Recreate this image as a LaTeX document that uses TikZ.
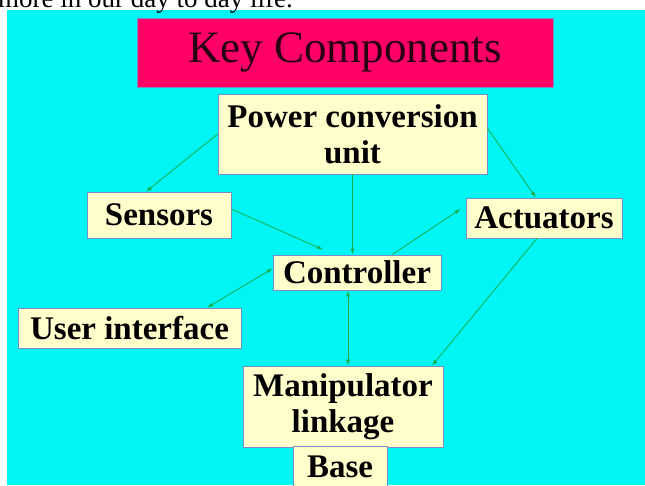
\documentclass[tikz,border=0pt]{standalone}
\usepackage{fontspec}
\setmainfont{Liberation Serif}
\usetikzlibrary{arrows.meta}

\definecolor{tlo}{RGB}{0,245,245}
\definecolor{tytul}{RGB}{255,0,102}
\definecolor{krem}{RGB}{255,255,204}
\definecolor{ramka}{RGB}{120,140,200}
\definecolor{zielony}{RGB}{20,175,75}

\begin{document}
\begin{tikzpicture}[x=1pt, y=-1pt, every node/.style={text=black}]

\def\bw{0.7pt}

% ---------- style ----------
\tikzset{
  boxstyle/.style={
    draw=ramka,
    fill=krem,
    line width=\bw,
    inner sep=0pt,
    align=center,
    font=\fontsize{33}{36.5}\selectfont\bfseries
  },
  titlestyle/.style={
    boxstyle,
    fill=tytul,
    text={rgb,255:red,40;green,0;blue,20},
    font=\fontsize{45}{48}\selectfont
  },
  arrowstyle/.style={
    ->,
    >={Latex[length=6pt,width=4pt]},
    draw=zielony,
    line width=0.8pt
  }
}

% ---------- tlo ----------
\useasboundingbox (0,0) rectangle (645,485);
\fill[white] (0,0) rectangle (645,485);
\fill[tlo] (7,10) rectangle (645,485);
\node[anchor=base west, inner sep=0pt, font=\fontsize{27}{30}\selectfont] (intro) at (-2,7) {more in our day to day life.};

% ---------- bloki ----------
\node[titlestyle, minimum width=416pt, minimum height=69pt] (title) at (345,52.5) {Key Components};

\node[boxstyle, minimum width=269pt, minimum height=80pt] (power) at (352.5,134) {Power conversion\\unit};
\node[boxstyle, minimum width=144pt, minimum height=46pt] (sensors) at (159,215) {Sensors};
\node[boxstyle, minimum width=156pt, minimum height=40pt] (actuators) at (544,218) {Actuators};
\node[boxstyle, minimum width=168pt, minimum height=35pt] (controller) at (357,272.5) {Controller};
\node[boxstyle, minimum width=223pt, minimum height=40pt] (user) at (129.5,328) {User interface};
\node[boxstyle, minimum width=200pt, minimum height=81pt] (manip) at (343,406.5) {Manipulator\\linkage};
\node[boxstyle, minimum width=94pt, minimum height=40pt] (base) at (340,466.5) {Base};

% ---------- strzalki ----------
\draw[arrowstyle] (power.west) -- ([xshift=-13pt]sensors.north);
\draw[arrowstyle] ([yshift=6pt]power.east) -- ([xshift=-8pt]actuators.north);
\draw[arrowstyle] (power.south) -- (power.south |- controller.north);

\draw[arrowstyle] ([yshift=6pt]sensors.east) -- ([xshift=-34pt,yshift=5pt]controller.north);
\draw[arrowstyle] ([xshift=35pt]controller.north) -- ([xshift=-5pt,yshift=9pt]actuators.west);

\draw[arrowstyle, <->] ([yshift=4pt]controller.west) -- ([xshift=77.5pt]user.north);
\draw[arrowstyle, <->] ([xshift=-9pt]controller.south) -- ([xshift=-9pt]controller.south |- manip.north);

\draw[arrowstyle] ([xshift=-7pt]actuators.south) -- ([xshift=89pt]manip.north);

\end{tikzpicture}
\end{document}
